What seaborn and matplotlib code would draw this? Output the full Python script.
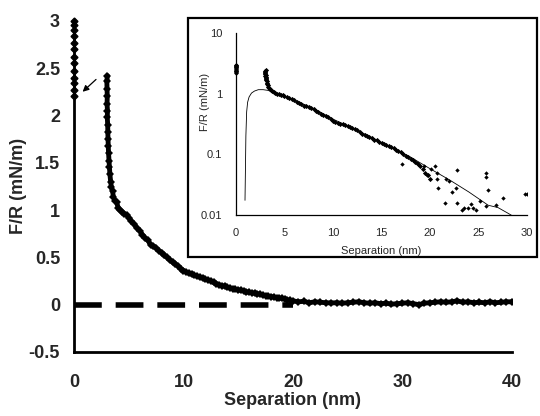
import numpy as np
import pandas as pd
import seaborn as sns
import matplotlib.pyplot as plt
from matplotlib.patches import Rectangle
from matplotlib.ticker import FixedLocator, FuncFormatter, NullLocator

sns.set_theme(style="white")
plt.rcParams["font.family"] = "sans-serif"
plt.rcParams["font.sans-serif"] = ["Liberation Sans", "Arial", "DejaVu Sans"]

# ----------------------------------------------------------------------
# DATA
# ----------------------------------------------------------------------

# points stacked on the y axis (contact, x = 0)
contact_x = [0, 0, 0, 0, 0, 0, 0, 0, 0, 0, 0, 0, 0]
contact_y = [2.2, 2.27, 2.34, 2.4, 2.47, 2.55, 2.62, 2.7, 2.77, 2.84, 2.9, 2.96, 3.0]

# force curve on approach
sep_nm = [
    3.05, 3.0, 3.02, 3.04, 3.02, 3.06, 3.04, 3.08, 3.09, 3.11, 3.13, 3.16,
    3.2, 3.24, 3.28, 3.35, 3.42, 3.52, 3.6, 3.75, 3.9, 4.05, 4.2, 4.4,
    4.6, 4.8, 5.0, 5.25, 5.5, 5.75, 6.0, 6.25, 6.5, 6.75, 7.0, 7.25,
    7.5, 7.75, 8.0, 8.25, 8.5, 8.75, 9.0, 9.25, 9.5, 9.75, 10.0, 10.25,
    10.5, 10.75, 11.0, 11.25, 11.5, 11.75, 12.0, 12.25, 12.5, 12.75, 13.0, 13.25,
    13.5, 13.75, 14.0, 14.25, 14.5, 14.75, 15.0, 15.25, 15.5, 15.75, 16.0, 16.25,
    16.5, 16.75, 17.0, 17.25, 17.5, 17.75, 18.0, 18.25, 18.5, 18.75, 19.0, 19.25,
    19.5, 19.75, 20.0, 20.5, 21.0, 21.5, 22.0, 22.5, 23.0, 23.5, 24.0, 24.5,
    25.0, 25.5, 26.0, 26.5, 27.0, 27.5, 28.0, 28.5, 29.0, 29.5, 30.0, 30.5,
    31.0, 31.5, 32.0, 32.5, 33.0, 33.5, 34.0, 34.5, 35.0, 35.5, 36.0, 36.5,
    37.0, 37.5, 38.0, 38.5, 39.0, 39.5, 40.0,
]
force_mNm = [
    2.42, 2.36, 2.28, 2.2, 2.12, 2.05, 1.98, 1.9, 1.82, 1.75, 1.68, 1.6,
    1.52, 1.45, 1.38, 1.3, 1.24, 1.2, 1.14, 1.1, 1.08, 1.02, 1.0, 0.98,
    0.96, 0.95, 0.92, 0.88, 0.85, 0.81, 0.78, 0.74, 0.7, 0.68, 0.63, 0.62,
    0.6, 0.57, 0.55, 0.52, 0.5, 0.47, 0.45, 0.43, 0.41, 0.38, 0.36, 0.345,
    0.33, 0.32, 0.31, 0.3, 0.29, 0.28, 0.27, 0.26, 0.25, 0.235, 0.22, 0.21,
    0.2, 0.195, 0.185, 0.175, 0.17, 0.16, 0.155, 0.15, 0.145, 0.135, 0.13, 0.125,
    0.12, 0.115, 0.11, 0.1, 0.095, 0.09, 0.085, 0.08, 0.075, 0.07, 0.065, 0.058,
    0.05, 0.045, 0.04, 0.03, 0.035, 0.02, 0.03, 0.025, 0.02, 0.018, 0.02, 0.015,
    0.02, 0.025, 0.03, 0.02, 0.015, 0.02, 0.01, 0.015, 0.005, 0.01, 0.015, 0.02,
    0.01, 0.0, 0.015, 0.02, 0.025, 0.03, 0.025, 0.03, 0.04, 0.025, 0.03, 0.02,
    0.025, 0.02, 0.03, 0.02, 0.025, 0.03, 0.03,
]

# zero-force reference line
zero_x = [0, 20]
zero_y = [0, 0]

# arrow pointing at the contact points
arrow_tail = (2.2, 2.4)
arrow_head = (0.6, 2.23)

# scattered points of the inset at large separation
tail_x = [17.1, 18.7, 19.4, 19.7, 20.1, 20.5, 20.7, 20.7, 20.8, 21.5, 21.6, 22.0,
          22.3, 22.7, 22.8, 22.8, 23.3, 23.5, 23.9, 24.2, 24.4, 24.7, 25.2, 25.8,
          25.8, 25.8, 26.0, 26.8, 27.5, 29.8, 30.0]
tail_y = [0.07, 0.072, 0.065, 0.045, 0.058, 0.065, 0.049, 0.04, 0.028, 0.016, 0.04, 0.036,
          0.024, 0.028, 0.056, 0.016, 0.012, 0.013, 0.013, 0.015, 0.013, 0.012, 0.017, 0.05,
          0.042, 0.014, 0.026, 0.0145, 0.019, 0.022, 0.022]

# theoretical fit shown in the inset
fit_x = [0.93, 0.97, 1.02, 1.1, 1.2, 1.35, 1.6, 1.9, 2.3, 2.8, 3.3, 4.0, 5.0, 6.0,
         8.0, 10.0, 12.0, 14.0, 16.0, 18.0, 20.0, 22.0, 24.0, 26.0, 27.0, 28.0, 28.6]
fit_y = [0.0175, 0.05, 0.2, 0.5, 0.72, 0.88, 1.02, 1.1, 1.16, 1.16, 1.13, 1.03, 0.9, 0.78,
         0.57, 0.38, 0.27, 0.19, 0.13, 0.09, 0.058, 0.038, 0.024, 0.0145, 0.0133, 0.0108, 0.0095]

df = pd.DataFrame({"sep": sep_nm, "force": force_mNm})

# ----------------------------------------------------------------------
# MAIN PLOT
# ----------------------------------------------------------------------

fig = plt.figure(figsize=(5.4, 4.16), dpi=100)
ax = fig.add_axes([0.137, 0.154, 0.811, 0.796])

ax.plot(zero_x, zero_y, color="black", lw=4, linestyle=(0, (5, 2.5)), zorder=2)
sns.lineplot(data=df, x="sep", y="force", sort=False, estimator=None,
             color="black", lw=3.5, marker="D", markersize=3.8, markeredgewidth=0,
             ax=ax, zorder=3)
ax.plot(contact_x, contact_y, "D", color="black", ms=3.5, clip_on=False, zorder=4)
ax.annotate("", xy=arrow_head, xytext=arrow_tail,
            arrowprops=dict(arrowstyle="-|>", color="black", lw=0.9, mutation_scale=9))

ax.set_xlim(0, 40)
ax.set_ylim(-0.5, 3)
ax.xaxis.set_major_locator(FixedLocator([0, 10, 20, 30, 40]))
ax.yaxis.set_major_locator(FixedLocator([-0.5, 0, 0.5, 1, 1.5, 2, 2.5, 3]))
ax.yaxis.set_major_formatter(FuncFormatter(lambda v, p: f"{v:g}"))
ax.set_xlabel("Separation (nm)", fontsize=13, fontweight="bold")
ax.set_ylabel("F/R (mN/m)", fontsize=13, fontweight="bold")
ax.xaxis.set_label_coords(0.5, -0.12)
ax.yaxis.set_label_coords(-0.108, 0.5)
ax.tick_params(direction="in", length=6, width=2, labelsize=13)
ax.tick_params(axis="x", pad=16)
ax.tick_params(axis="y", pad=10)
for lab in ax.get_xticklabels() + ax.get_yticklabels():
    lab.set_fontweight("bold")
sns.despine(ax=ax)
for side in ["left", "bottom"]:
    ax.spines[side].set_linewidth(2)
    ax.spines[side].set_color("black")

# ----------------------------------------------------------------------
# INSET (log scale)
# ----------------------------------------------------------------------

fig.add_artist(Rectangle((0.348, 0.382), 0.646, 0.575, transform=fig.transFigure,
                         facecolor="white", edgecolor="black", lw=1.6, zorder=5))
ins = fig.add_axes([0.437, 0.483, 0.539, 0.438], zorder=6)
ins.set_facecolor("white")

sns.lineplot(x=fit_x, y=fit_y, sort=False, estimator=None, color="black", lw=0.6, ax=ins)
near = df[df["sep"] <= 20]
sns.scatterplot(x=near["sep"], y=near["force"], color="black", s=7, marker="D",
                linewidth=0, ax=ins)
sns.scatterplot(x=tail_x, y=tail_y, color="black", s=5, marker="D", linewidth=0, ax=ins)
sns.scatterplot(x=contact_x, y=contact_y, color="black", s=6, marker="D",
                linewidth=0, ax=ins, clip_on=False)

ins.set_yscale("log")
ins.set_xlim(0, 30)
ins.set_ylim(0.01, 10)
ins.xaxis.set_major_locator(FixedLocator([0, 5, 10, 15, 20, 25, 30]))
ins.yaxis.set_major_locator(FixedLocator([0.01, 0.1, 1, 10]))
ins.yaxis.set_minor_locator(NullLocator())
ins.yaxis.set_major_formatter(FuncFormatter(lambda v, p: f"{v:g}"))
ins.set_xlabel("Separation (nm)", fontsize=8)
ins.set_ylabel("F/R (mN/m)", fontsize=8)
ins.xaxis.set_label_coords(0.5, -0.17)
ins.yaxis.set_label_coords(-0.088, 0.62)
ins.tick_params(direction="in", length=3, width=0.8, labelsize=8)
ins.tick_params(axis="x", pad=9)
ins.tick_params(axis="y", pad=10)
sns.despine(ax=ins)
for side in ["left", "bottom"]:
    ins.spines[side].set_linewidth(0.9)
    ins.spines[side].set_color("black")

fig.savefig("out.png", dpi=100)
